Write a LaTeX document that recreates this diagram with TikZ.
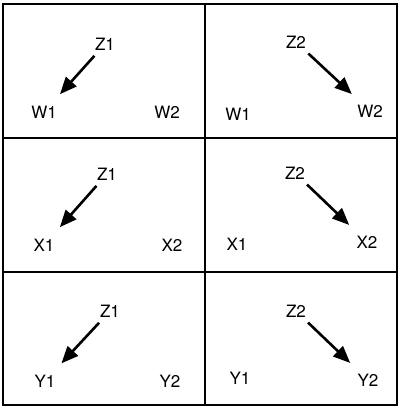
\documentclass[tikz,border=0pt]{standalone}
\usepackage{fontspec}
\setmainfont{TeX Gyre Heros}
\usetikzlibrary{arrows.meta}

\begin{document}
\begin{tikzpicture}[
  x=1pt, y=-1pt,
  font=\fontsize{17}{19}\selectfont,
  >={Triangle[length=17pt, width=14pt]},
  frame/.style={line width=1.6pt},
  var/.style={inner sep=1pt},
  link/.style={->, line width=2.6pt, shorten <=6pt, shorten >=14pt}
]
\path[use as bounding box] (0,0) rectangle (399,408);

% panels
\draw[frame] (3,4) rectangle (397,405);
\draw[frame] (205,4) -- (205,405);
\draw[frame] (3,138) -- (397,138);
\draw[frame] (3,272) -- (397,272);

% top row
\node[var] (z1a) at (105,44) {Z1};
\node[var] (w1a) at (44,112) {W1};
\node[var] (w2a) at (167,112) {W2};
\node[var] (z2a) at (296,42) {Z2};
\node[var] (w1b) at (238,114) {W1};
\node[var] (w2b) at (370,111) {W2};
\draw[link] (z1a) -- (w1a);
\draw[link] (z2a) -- (w2b);

% middle row
\node[var] (z1b) at (107,174) {Z1};
\node[var] (x1a) at (44,245) {X1};
\node[var] (x2a) at (172,245) {X2};
\node[var] (z2b) at (295,173) {Z2};
\node[var] (x1b) at (237,244) {X1};
\node[var] (x2b) at (367,242) {X2};
\draw[link] (z1b) -- (x1a);
\draw[link] (z2b) -- (x2b);

% bottom row
\node[var] (z1c) at (110,311) {Z1};
\node[var] (y1a) at (45,381) {Y1};
\node[var] (y2a) at (170,381) {Y2};
\node[var] (z2c) at (296,311) {Z2};
\node[var] (y1b) at (240,378) {Y1};
\node[var] (y2b) at (368,380) {Y2};
\draw[link] (z1c) -- (y1a);
\draw[link] (z2c) -- (y2b);
\end{tikzpicture}
\end{document}
